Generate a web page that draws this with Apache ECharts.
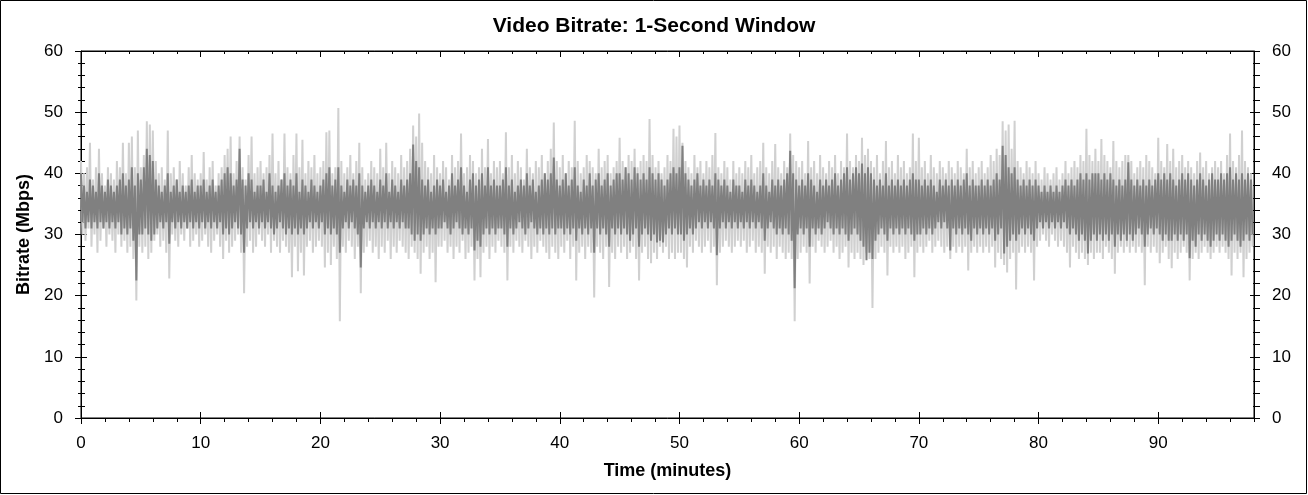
<!DOCTYPE html>
<html><head><meta charset="utf-8">
<script src="https://cdn.jsdelivr.net/npm/echarts@6/dist/echarts.min.js"></script>
<style>html,body{margin:0;padding:0;background:#fff}#c{width:1308px;height:495px}</style>
</head><body><div id="c"></div>
<script>
const titleText = 'Video Bitrate: 1-Second Window';
const xName = 'Time (minutes)';
const yName = 'Bitrate (Mbps)';
const xMajor = [0,10,20,30,40,50,60,70,80,90];
const STEP = 0.25; // minutes per sample (15 s)

// light gray: per-sample upper / lower extent (Mbps)
const lightHi = [
42,40,41,45,39,41,44,40,38,41,40,39,42,41,45,40,45,46,41,47,
41,43,48.5,48,47,42,40,41,39,47,40,41,39,42,40,38,41,43,40,39,
40,43.5,39,41,42,38,40,41,43,44,46,40,42,46,41,39,43,46,40,41,
42,40,41,43,46.5,40,42,39,46.5,41,40,43,46.5,41,45.5,40,42,41,43,40,
41,42,46.7,47,40,41,50.7,42,40,41,43,40,42,45,41,39,40,42,41,40,
44,41,45,40,42,41,40,43,41,42,44,47.8,46,49.8,45,42,41,40,43,41,
40,42,41,39,43,41,42,46.5,40,41,43,42,40,41,44,41,45.6,40,42,41,
42,40,46.7,41,43,40,42,41,39,44,41,40,42,41,43,40,42,44,48.3,42,
41,43,40,42,41,48.6,42,40,41,43,42,41,40,44,41,42,43,40,41,42,
45.8,42,41,43,42,44,41,42,43,42,48.9,43,41,42,40,41,43,42,47.3,46,
47.8,45,42,41,40,43,41,42,40,42,41,43,46.6,41,40,42,41,39,42,40,
41,40,42,41,43,40,41,42,45,41,40,42,44.8,41,40,42,41,46.5,43,42,
41,42,40,45.3,41,42,40,43,41,40,42,41,43,40,42,41,46.5,42,41,43,
42,45.8,43,44,42,41,43,40,42,45.3,41,42,40,43,41,42,40,41,46.5,42,
45.8,41,42,40,43,41,40,42,41,40,42,41,40,42,41,40,44,41,42,40,
41,42,40,41,43,42,44,43,48.5,47,48,44,48.6,42,41,40,42,41,40,42,
40,39,41,40,39,40,41,39,40,42,40,41,42,41,43,42,47.3,43,42,44,
42,45.6,43,42,41,45.3,42,41,42,43,43,42,40,41,42,41,43,42,41,40,
45.8,42,41,44.8,42,44,41,42,43,41,42,41,40,42,43.4,41,42,40,41,42,
41,42,40,43,46.5,42,41,43,47,42,41,40
];
const lightLo = [
30,29,31,28,30,27,29,31,28,30,29,27,30,28,29,27,28,26,19.2,28,
27,28,26,27,29,30,28,29,27,22.8,30,29,28,30,29,31,28,29,30,28,
29,30,28,27,29,30,28,26,29,27,28,29,30,27,20.4,28,29,27,28,30,
29,28,30,27,29,28,27,29,28,27,23,28,24,27,23.3,28,29,27,28,29,
28,24.6,27,25,28,26,15.8,28,27,29,28,26,28,20.4,27,28,29,27,28,26,
28,27,29,26,28,27,29,28,27,26,28,27,26,23.6,27,28,26,27,22.2,28,
28,29,27,28,26,28,27,29,26,27,28,22.5,26,23,27,28,26,28,27,29,
28,27,22.5,28,27,29,28,27,29,28,26,28,27,29,28,27,26,28,27,26,
28,27,29,26,28,22.5,27,28,26,28,27,19.7,28,27,26,28,21.4,27,26,28,
27,28,26,27,28,26,22.5,27,28,26,25.3,27,26,28,27,28,26,27,26,27,
27,26,24.6,28,27,29,28,27,28,29,27,28,21.7,27,28,29,28,27,28,29,
28,29,27,28,29,27,28,27,23.6,28,27,28,26,28,27,26,27,26,15.8,26,
27,28,27,22,28,27,29,28,27,28,29,27,28,26,27,28,24.6,27,26,27,
26,25,27,26,18,26,27,28,27,23.3,28,27,28,27,28,26,27,28,23,27,
28,27,28,29,27,28,29,28,27,28,26,28,27,28,27,28,24.1,27,28,27,
28,27,28,27,28,24.6,27,26,25,23.8,26,27,21,27,28,27,28,27,22.5,28,
29,30,29,28,30,29,28,29,28,27,24.6,28,27,26,27,26,25,27,26,27,
27,26,28,27,26,23.6,27,28,27,28,27,28,27,28,27,21.7,28,27,28,27,
25.3,27,28,26,24.5,27,26,27,28,27,22.5,26,27,26,27,28,27,26,27,28,
27,28,27,26,23.3,27,26,27,23,26,27,28
];
// dark gray: per-sample upper / lower extent (Mbps)
const darkHi = [
40,38,37,39,38,37,40,38,37,39,38,37,38,39,40,38,39,41,38,40,
39,41,44,43,42,39,38,37,38,40,37,38,39,37,38,37,38,39,37,38,
38,39,37,38,39,37,38,39,40,41,40,38,39,44,39,38,40,39,37,38,
38,39,37,40,38,37,38,39,40,38,39,38,40,37,39,38,37,39,38,37,
38,39,40,41,38,39,41,38,37,39,38,39,38,40,38,37,38,39,38,37,
39,38,40,37,39,38,37,39,38,39,40,44.7,42,41,39,38,39,37,38,39,
38,39,37,38,40,38,39,41,38,37,39,40,38,39,40,38,41,38,39,38,
38,39,41,38,39,37,38,39,38,40,38,39,37,38,39,40,39,40,42.6,39,
38,39,40,38,39,41,38,37,39,38,40,38,39,40,38,39,40,38,39,40,
40,39,41,40,39,41,40,39,40,39,41,40,39,40,39,38,39,40,41,40,
41,44.5,40,39,38,39,40,38,39,38,39,38,40,39,38,39,38,37,39,38,
38,37,39,38,39,38,37,38,40,38,37,39,38,39,38,39,40,43.7,40,39,
38,39,38,40,39,38,37,39,38,39,38,39,40,38,39,40,41,39,40,41,
40,41.6,40,41,40,39,38,39,38,40,38,39,38,39,38,39,38,39,40,39,
39,38,39,38,39,38,37,39,38,39,38,39,38,39,38,39,40,38,39,38,
38,39,38,39,38,39,40,39,44.5,43,41,40,41,39,38,39,38,39,38,39,
38,37,38,37,38,37,38,37,38,39,38,39,38,39,40,39,40,39,40,40,
40,39,40,39,40,39,38,39,38,39,41.8,39,38,39,38,39,38,39,38,39,
40,39,40,39,40,39,38,39,40,39,40,39,38,39,40,39,38,39,40,39,
39,40,39,40,41,39,40,39,40,39,40,39
];
const darkLo = [
32,31,32,31,32,31,32,31,32,31,32,31,32,30,31,30,31,29,22.5,30,
30,31,30,29,30,31,32,31,32,28.5,32,31,32,31,32,31,32,31,32,31,
32,31,32,31,32,31,32,30,31,30,31,32,31,30,27,31,32,31,32,31,
32,31,32,31,30,31,32,31,30,31,30,31,30,31,30,31,32,31,32,31,
32,30,31,30,31,30,27,31,32,31,32,31,30,24.6,31,32,31,32,31,32,
31,32,31,32,31,32,31,32,31,31,30,29,30,29,30,31,30,31,30,31,
31,32,31,30,31,32,31,30,31,30,31,27.4,29,28,30,31,30,31,30,31,
31,30,28,31,30,31,32,31,30,31,32,31,30,31,30,31,30,31,30,31,
31,30,31,30,31,29,31,30,31,30,31,27,31,30,31,30,28,31,30,31,
30,31,30,29,30,31,28,30,31,30,29,30,28.7,29,28.7,30,31,30,31,30,
30,29,30,31,30,31,32,31,32,31,32,31,26.6,31,32,31,32,31,32,31,
32,31,32,31,32,31,32,31,29,31,32,31,30,31,30,31,30,29,21.2,30,
31,30,31,28,31,30,31,30,31,32,31,30,31,30,31,30,29,30,31,30,
29,28,25.8,27,26,29,30,31,30,29,31,30,31,30,31,30,31,30,29,30,
30,31,30,31,30,31,32,31,32,31,27.4,31,30,31,30,31,30,29,31,30,
31,30,31,30,31,29,30,31,26.9,28,29,30,29,30,31,30,31,30,29,31,
32,31,32,31,32,31,32,31,32,31,30,31,30,29,30,29,26.9,29,30,29,
30,29,30,29,30,28,30,29,30,29,30,29,30,31,30,28,30,31,30,31,
30,29,30,29,29,30,29,30,29,30,26.1,29,28,30,29,30,29,28,29,30,
29,30,29,28,29,30,29,28,29,30,29,30
];

const FONT = '"Liberation Sans", Arial, sans-serif';
const BLACK = '#000';

function zig(hi, lo) {
  const n = Math.min(hi.length, lo.length);
  const d = [];
  for (let i = 0; i < n; i++) {
    d.push([i * STEP, hi[i]]);
    d.push([i * STEP + STEP / 2, lo[i]]);
  }
  return d;
}

const xBase = {type:'value', min:0, max:98, splitLine:{show:false}};
const yBase = {type:'value', min:0, max:60, interval:10, splitLine:{show:false}};
const line = {show:true, onZero:false, lineStyle:{color:BLACK, width:1}};
const noLine = {show:false, onZero:false};
const noLabel = {show:false};
const tick = (inside, length, custom) => {
  const t = {show:true, inside:inside, length:length, lineStyle:{color:BLACK, width:1}};
  if (custom) t.customValues = custom;
  return t;
};

const chart = echarts.init(document.getElementById('c'), null, {renderer:'canvas'});
chart.setOption({
  animation:false,
  backgroundColor:'#fff',
  textStyle:{fontFamily:FONT},
  title:{text:titleText, left:'center', top:16, padding:0,
    textStyle:{fontFamily:FONT, fontSize:21, fontWeight:'bold', color:BLACK}},
  graphic:[{type:'rect', silent:true, shape:{x:0.5, y:0.5, width:1306, height:493},
    style:{fill:'none', stroke:BLACK, lineWidth:1}}],
  grid:{left:81, right:54, top:51, bottom:77, containLabel:false,
    show:true, borderColor:BLACK, borderWidth:1, backgroundColor:'transparent'},
  xAxis:[
    Object.assign({}, xBase, {position:'bottom', axisLine:line, axisTick:tick(false,6,xMajor),
      axisLabel:{show:true, customValues:xMajor, color:BLACK, fontFamily:FONT, fontSize:17, margin:17},
      name:xName, nameLocation:'middle', nameGap:44,
      nameTextStyle:{fontFamily:FONT, fontSize:18, fontWeight:'bold', color:BLACK}}),
    Object.assign({}, xBase, {position:'bottom', axisLine:noLine, axisTick:tick(true,6,xMajor), axisLabel:noLabel}),
    Object.assign({}, xBase, {position:'bottom', interval:2, axisLine:noLine, axisTick:tick(false,4), axisLabel:noLabel}),
    Object.assign({}, xBase, {position:'top', axisLine:line, axisTick:tick(true,6,xMajor), axisLabel:noLabel}),
    Object.assign({}, xBase, {position:'top', interval:2, axisLine:noLine, axisTick:tick(true,3), axisLabel:noLabel})
  ],
  yAxis:[
    Object.assign({}, yBase, {position:'left', axisLine:line, axisTick:tick(false,6),
      minorTick:{show:true, splitNumber:5, length:3, lineStyle:{color:BLACK}},
      axisLabel:{show:true, color:BLACK, fontFamily:FONT, fontSize:17, margin:18},
      name:yName, nameLocation:'middle', nameGap:46,
      nameTextStyle:{fontFamily:FONT, fontSize:18, fontWeight:'bold', color:BLACK}}),
    Object.assign({}, yBase, {position:'left', axisLine:noLine, axisTick:tick(true,6),
      minorTick:{show:true, splitNumber:5, length:4, lineStyle:{color:BLACK}}, axisLabel:noLabel}),
    Object.assign({}, yBase, {position:'right', axisLine:line, axisTick:tick(false,6),
      minorTick:{show:true, splitNumber:5, length:6, lineStyle:{color:BLACK}},
      axisLabel:{show:true, color:BLACK, fontFamily:FONT, fontSize:17, margin:18}}),
    Object.assign({}, yBase, {position:'right', axisLine:noLine, axisTick:tick(true,4),
      minorTick:{show:true, splitNumber:5, length:1, lineStyle:{color:BLACK}}, axisLabel:noLabel})
  ],
  series:[
    {type:'line', name:'light', xAxisIndex:0, yAxisIndex:0, data:zig(lightHi, lightLo),
      symbol:'none', showSymbol:false, silent:true, z:2,
      lineStyle:{color:'#d0d0d0', width:2}},
    {type:'line', name:'dark', xAxisIndex:0, yAxisIndex:0, data:zig(darkHi, darkLo),
      symbol:'none', showSymbol:false, silent:true, z:3,
      lineStyle:{color:'#808080', width:2}}
  ]
});
</script></body></html>
